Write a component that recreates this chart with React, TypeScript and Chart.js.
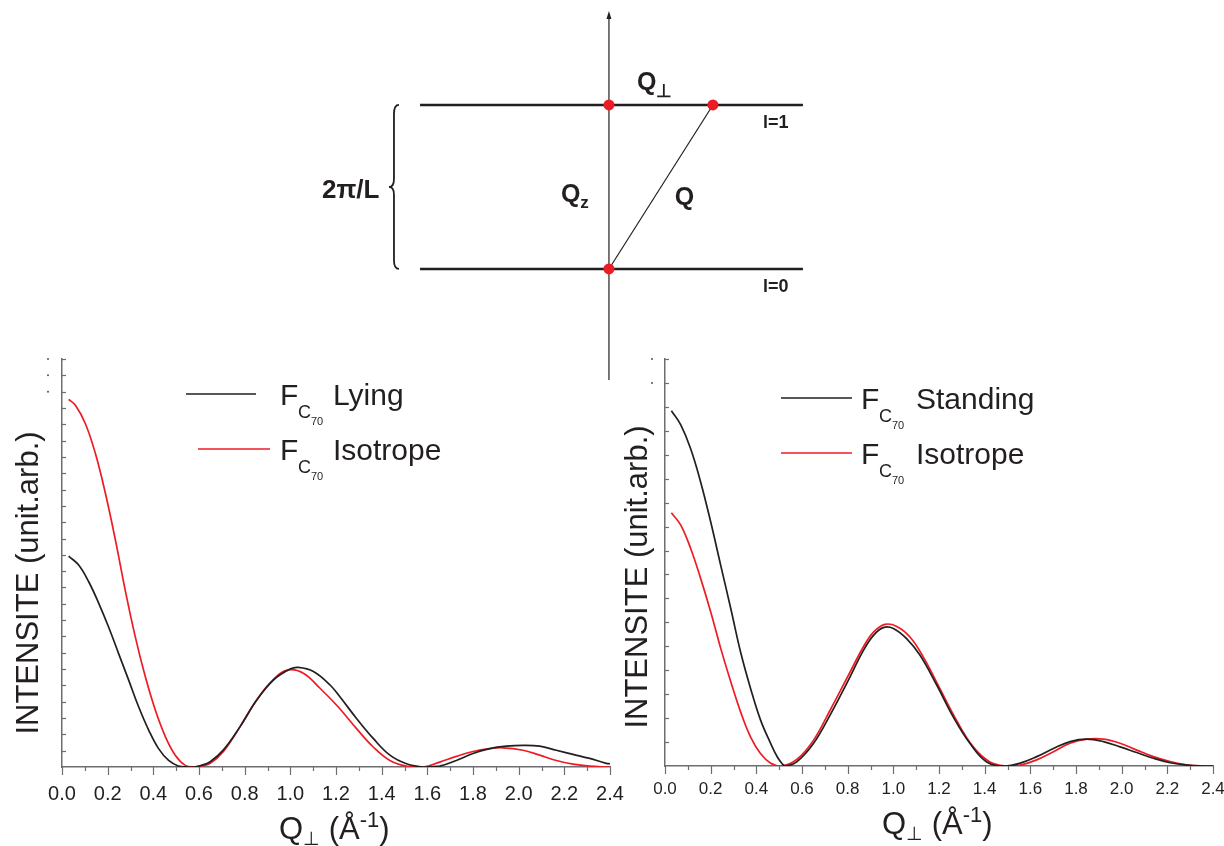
import React, { useEffect, useRef } from 'react';
import { Chart, registerables } from 'chart.js';

Chart.register(...registerables);

const FONT = 'Arial, "Liberation Sans", Helvetica, sans-serif';
const INK = '#231f20';
const RED = '#ed1c24';
const AXIS = '#6d6e71';

// ---------------- data : left panel (C70 lying vs isotrope) ----------------
const lyingQ = [0.029, 0.073, 0.117, 0.161, 0.204, 0.248, 0.292, 0.336, 0.380, 0.423, 0.467, 0.511, 0.545, 0.580, 0.605, 0.649, 0.707, 0.780, 0.853, 0.926, 0.999, 1.035, 1.101, 1.174, 1.217, 1.290, 1.363, 1.436, 1.509, 1.585, 1.654, 1.727, 1.800, 1.873, 1.946, 2.019, 2.092, 2.165, 2.238, 2.311, 2.384, 2.400];
const lyingI = [51.7, 49.5, 45.4, 40.1, 34.3, 27.8, 21.3, 14.7, 9.0, 4.5, 1.6, 0.2, 0.02, 0, 0.3, 1.3, 4.2, 9.9, 16.4, 21.3, 24.0, 24.4, 23.4, 20.1, 17.2, 11.9, 7.0, 2.9, 0.8, 0, 0.2, 1.6, 3.3, 4.5, 5.1, 5.3, 5.1, 4.1, 3.1, 2.1, 0.9, 0.8];

const isoLeftQ = [0.029, 0.058, 0.102, 0.146, 0.190, 0.234, 0.277, 0.321, 0.365, 0.409, 0.453, 0.496, 0.540, 0.577, 0.605, 0.649, 0.707, 0.780, 0.853, 0.926, 0.991, 1.057, 1.130, 1.210, 1.290, 1.363, 1.436, 1.509, 1.582, 1.654, 1.727, 1.800, 1.873, 1.931, 2.019, 2.092, 2.165, 2.238, 2.311, 2.384, 2.400];
const isoLeftI = [90.1, 88.7, 84.2, 76.9, 67.1, 55.6, 43.3, 31.9, 22.1, 13.9, 7.4, 2.9, 0.4, 0, 0.2, 0.9, 3.8, 9.9, 16.5, 21.5, 23.8, 23.0, 19.3, 14.7, 9.4, 4.9, 1.6, 0.2, 0, 1.2, 2.6, 3.8, 4.5, 4.7, 4.1, 2.9, 1.6, 0.7, 0.2, 0, 0];

// ---------------- data : right panel (C70 standing vs isotrope) ----------------
const standingQ = [0.028, 0.069, 0.112, 0.156, 0.200, 0.244, 0.288, 0.331, 0.375, 0.419, 0.463, 0.492, 0.514, 0.528, 0.577, 0.650, 0.723, 0.796, 0.869, 0.913, 0.956, 1.000, 1.058, 1.117, 1.190, 1.263, 1.336, 1.409, 1.490, 1.555, 1.628, 1.701, 1.774, 1.847, 1.920, 1.993, 2.066, 2.139, 2.212, 2.285, 2.358, 2.400];
const standingI = [87.3, 83.8, 78.0, 69.8, 60.0, 49.3, 38.7, 28.0, 19.0, 11.2, 5.5, 2.2, 0.5, 0, 1.0, 5.5, 12.5, 20.3, 28.4, 32.1, 34.0, 33.8, 31.3, 27.2, 19.9, 12.0, 5.5, 1.0, 0, 0.7, 2.3, 4.3, 6.0, 6.6, 6.0, 4.7, 3.3, 1.9, 0.8, 0.2, 0, 0];

const isoRightQ = [0.028, 0.069, 0.112, 0.156, 0.200, 0.244, 0.288, 0.331, 0.375, 0.419, 0.463, 0.510, 0.577, 0.650, 0.723, 0.796, 0.869, 0.913, 0.963, 1.015, 1.073, 1.131, 1.204, 1.277, 1.350, 1.423, 1.496, 1.555, 1.628, 1.701, 1.774, 1.847, 1.920, 1.993, 2.066, 2.139, 2.212, 2.285, 2.358, 2.400];
const isoRightI = [62.2, 59.2, 53.5, 46.1, 37.9, 28.9, 20.7, 13.3, 7.1, 3.0, 0.7, 0, 1.6, 6.3, 13.7, 21.5, 29.3, 32.9, 34.8, 34.3, 31.7, 26.8, 19.0, 11.2, 4.7, 1.0, 0, 0.2, 1.5, 3.5, 5.6, 6.6, 6.6, 5.6, 3.9, 2.3, 1.1, 0.3, 0, 0];

// ---------------- ticks / labels ----------------
const xTickValues = [0, 0.2, 0.4, 0.6, 0.8, 1.0, 1.2, 1.4, 1.6, 1.8, 2.0, 2.2, 2.4];
const xTickLabels = ['0.0', '0.2', '0.4', '0.6', '0.8', '1.0', '1.2', '1.4', '1.6', '1.8', '2.0', '2.2', '2.4'];
const xTickMarks = [0, 0.1, 0.2, 0.3, 0.4, 0.5, 0.6, 0.7, 0.8, 0.9, 1.0, 1.1, 1.2, 1.3, 1.4, 1.5, 1.6, 1.7, 1.8, 1.9, 2.0, 2.1, 2.2, 2.3, 2.4];
const yTitle = 'INTENSITE (unit.arb.)';
const leftNames = ['Lying', 'Isotrope'];
const rightNames = ['Standing', 'Isotrope'];

// ---------------- diagram (reciprocal space sketch) ----------------
const levelValues = [0, 1];
const levelLabels = ['l=0', 'l=1'];
const levelSpan = [-1.152, 1.183];
const qzAxisSpan = [-0.677, 1.555];
const qPerpValue = 0.634;

type Series = { q: number[]; v: number[]; color: string };
type LegendItem = { name: string; color: string; x1: number; x2: number; ly: number; fx: number; base: number; nameX: number };
type PanelSpec = {
  left: number; top: number; width: number; height: number;
  area: { left: number; right: number; top: number; bottom: number };
  series: Series[];
  yTicks: number;
  tickFont: number;
  tickPad: number;
  legend: LegendItem[];
  yTitle: { x: number; y: number; size: number };
  xTitle: { x: number; base: number; size: number };
  dots: { x: number; ticks: number[] };
};

function drawRich(ctx: CanvasRenderingContext2D, parts: { t: string; size: number; dy: number }[], x: number, base: number, weight = '') {
  let cx = x;
  for (const p of parts) {
    ctx.font = `${weight}${p.size}px ${FONT}`;
    ctx.fillText(p.t, cx, base + p.dy);
    cx += ctx.measureText(p.t).width;
  }
}

function panelPlugin(spec: PanelSpec) {
  return {
    id: 'panelDecor',
    afterDraw(chart: any) {
      const { ctx, chartArea } = chart;
      const xs = chart.scales.x;
      const ys = chart.scales.y;
      ctx.save();
      ctx.strokeStyle = AXIS;
      ctx.lineWidth = 1.2;
      // inner minor ticks on the y axis
      for (let i = 1; i <= spec.yTicks; i++) {
        const py = Math.round(ys.getPixelForValue((i * 100) / spec.yTicks)) + 0.5;
        ctx.beginPath();
        ctx.moveTo(chartArea.left, py);
        ctx.lineTo(chartArea.left + 4, py);
        ctx.stroke();
      }
      // outer ticks on the x axis
      xTickMarks.forEach((v, k) => {
        const px = Math.round(xs.getPixelForValue(v)) + 0.5;
        const len = k % 2 === 0 ? 8 : 4;
        ctx.beginPath();
        ctx.moveTo(px, chartArea.bottom);
        ctx.lineTo(px, chartArea.bottom + len);
        ctx.stroke();
      });
      // leftover label dots at top of y axis
      ctx.fillStyle = '#555';
      for (const t of spec.dots.ticks) {
        const py = ys.getPixelForValue((t * 100) / spec.yTicks);
        ctx.beginPath();
        ctx.arc(spec.dots.x, py, 1, 0, Math.PI * 2);
        ctx.fill();
      }
      // y title
      ctx.fillStyle = INK;
      ctx.save();
      ctx.translate(spec.yTitle.x, spec.yTitle.y);
      ctx.rotate(-Math.PI / 2);
      ctx.font = `${spec.yTitle.size}px ${FONT}`;
      ctx.textAlign = 'center';
      ctx.textBaseline = 'middle';
      ctx.fillText(yTitle, 0, 0);
      ctx.restore();
      // x title  Q⊥ (Å-1)
      ctx.textAlign = 'left';
      ctx.textBaseline = 'alphabetic';
      const s = spec.xTitle.size;
      drawRich(ctx, [
        { t: 'Q', size: s, dy: 0 },
        { t: '⊥', size: Math.round(s * 0.62), dy: 6 },
        { t: ' (Å', size: s, dy: 0 },
        { t: '-1', size: Math.round(s * 0.72), dy: -12 },
        { t: ')', size: s, dy: 0 },
      ], spec.xTitle.x, spec.xTitle.base);
      // legend
      for (const it of spec.legend) {
        ctx.strokeStyle = it.color;
        ctx.lineWidth = 1.6;
        ctx.beginPath();
        ctx.moveTo(it.x1, it.ly);
        ctx.lineTo(it.x2, it.ly);
        ctx.stroke();
        ctx.fillStyle = INK;
        ctx.font = `30px ${FONT}`;
        ctx.fillText('F', it.fx, it.base);
        ctx.font = `18px ${FONT}`;
        ctx.fillText('C', it.fx + 18, it.base + 13);
        ctx.font = `11px ${FONT}`;
        ctx.fillText('70', it.fx + 31, it.base + 20);
        ctx.font = `30px ${FONT}`;
        ctx.fillText(it.name, it.nameX, it.base);
      }
      ctx.restore();
    },
  };
}

function Panel({ spec }: { spec: PanelSpec }) {
  const ref = useRef<HTMLCanvasElement>(null);
  useEffect(() => {
    if (!ref.current) return;
    const chart = new Chart(ref.current, {
      type: 'scatter',
      data: {
        datasets: spec.series.map((s) => ({
          data: s.q.map((q, i) => ({ x: q, y: s.v[i] })),
          showLine: true,
          borderColor: s.color,
          borderWidth: 1.7,
          pointRadius: 0,
          tension: 0.4,
          capBezierPoints: true,
          fill: false,
        })),
      } as any,
      options: {
        animation: false,
        responsive: false,
        maintainAspectRatio: false,
        layout: {
          autoPadding: false,
          padding: { left: 0, top: spec.area.top, right: spec.width - spec.area.right, bottom: 0 },
        },
        plugins: { legend: { display: false }, tooltip: { enabled: false } },
        scales: {
          x: {
            type: 'linear',
            min: 0,
            max: 2.4,
            afterFit: (sc: any) => {
              sc.height = spec.height - spec.area.bottom;
              sc.paddingLeft = 0;
              sc.paddingRight = 0;
            },
            afterBuildTicks: (sc: any) => { sc.ticks = xTickValues.map((v) => ({ value: v })); },
            grid: { display: false },
            border: { display: true, color: AXIS, width: 1.5 },
            ticks: {
              autoSkip: false,
              maxRotation: 0,
              padding: spec.tickPad,
              color: INK,
              font: { size: spec.tickFont, family: FONT },
              callback: (_v: any, i: number) => xTickLabels[i],
            },
          },
          y: {
            type: 'linear',
            min: 0,
            max: 100,
            afterFit: (sc: any) => {
              sc.width = spec.area.left;
              sc.paddingTop = 0;
              sc.paddingBottom = 0;
            },
            grid: { display: false },
            border: { display: true, color: AXIS, width: 1.5 },
            ticks: { display: false },
          },
        },
      } as any,
      plugins: [panelPlugin(spec)],
    });
    return () => chart.destroy();
  }, [spec]);
  return (
    <canvas
      ref={ref}
      width={spec.width}
      height={spec.height}
      style={{ position: 'absolute', left: spec.left, top: spec.top, width: spec.width, height: spec.height }}
    />
  );
}

const leftSpec: PanelSpec = {
  left: 0, top: 340, width: 630, height: 506,
  area: { left: 62, right: 610, top: 19, bottom: 427 },
  series: [
    { q: lyingQ, v: lyingI, color: INK },
    { q: isoLeftQ, v: isoLeftI, color: RED },
  ],
  yTicks: 25,
  tickFont: 20,
  tickPad: 7,
  legend: [
    { name: leftNames[0], color: INK, x1: 186, x2: 256, ly: 54, fx: 280, base: 65, nameX: 333 },
    { name: leftNames[1], color: RED, x1: 198, x2: 270, ly: 109, fx: 280, base: 120, nameX: 333 },
  ],
  yTitle: { x: 29, y: 243, size: 31 },
  xTitle: { x: 279, base: 499, size: 31 },
  dots: { x: 48, ticks: [25, 24, 23] },
};

const rightSpec: PanelSpec = {
  left: 610, top: 340, width: 614, height: 506,
  area: { left: 55, right: 603, top: 19, bottom: 426 },
  series: [
    { q: standingQ, v: standingI, color: INK },
    { q: isoRightQ, v: isoRightI, color: RED },
  ],
  yTicks: 17,
  tickFont: 17,
  tickPad: 5,
  legend: [
    { name: rightNames[0], color: INK, x1: 171, x2: 242, ly: 58, fx: 251, base: 69, nameX: 306 },
    { name: rightNames[1], color: RED, x1: 171, x2: 242, ly: 113, fx: 251, base: 124, nameX: 306 },
  ],
  yTitle: { x: 28, y: 237, size: 31 },
  xTitle: { x: 272, base: 494, size: 31 },
  dots: { x: 42, ticks: [17, 16] },
};

const diagramLabels = [
  { text: 'Q', sub: '⊥', x: 0.171, y: 1.091, size: 25, subSize: 18, subDy: 7 },
  { text: 'Q', sub: 'z', x: -0.293, y: 0.409, size: 25, subSize: 17, subDy: 6 },
  { text: 'Q', sub: '', x: 0.402, y: 0.39, size: 25, subSize: 0, subDy: 0 },
  { text: '2π/L', sub: '', x: -1.75, y: 0.433, size: 26, subSize: 0, subDy: 0 },
];

const diagramPlugin = {
  id: 'diagramDecor',
  afterDraw(chart: any) {
    const { ctx } = chart;
    const sx = (v: number) => chart.scales.x.getPixelForValue(v);
    const sy = (v: number) => chart.scales.y.getPixelForValue(v);
    ctx.save();
    ctx.fillStyle = INK;
    ctx.textBaseline = 'alphabetic';
    ctx.textAlign = 'left';
    // arrow head on Qz axis
    const ax = sx(0);
    const ay = sy(qzAxisSpan[1]);
    ctx.beginPath();
    ctx.moveTo(ax, ay - 3);
    ctx.lineTo(ax - 2.5, ay + 5);
    ctx.lineTo(ax + 2.5, ay + 5);
    ctx.closePath();
    ctx.fill();
    // labels
    for (const l of diagramLabels) {
      const parts = [{ t: l.text, size: l.size, dy: 0 }];
      if (l.sub) parts.push({ t: l.sub, size: l.subSize, dy: l.subDy });
      drawRich(ctx, parts, sx(l.x), sy(l.y), 'bold ');
    }
    levelValues.forEach((lv, i) => {
      ctx.font = `bold 18px ${FONT}`;
      ctx.fillText(levelLabels[i], sx(0.939), sy(lv - 0.14));
    });
    // curly brace spanning l=0 .. l=1
    const bx = sx(-1.311);
    const top = sy(levelValues[1]);
    const bot = sy(levelValues[0]);
    const mid = (top + bot) / 2;
    ctx.strokeStyle = INK;
    ctx.lineWidth = 1.8;
    ctx.beginPath();
    ctx.moveTo(bx + 5, top);
    ctx.quadraticCurveTo(bx, top, bx, top + 9);
    ctx.lineTo(bx, mid - 8);
    ctx.quadraticCurveTo(bx, mid, bx - 5, mid);
    ctx.quadraticCurveTo(bx, mid, bx, mid + 8);
    ctx.lineTo(bx, bot - 9);
    ctx.quadraticCurveTo(bx, bot, bx + 5, bot);
    ctx.stroke();
    ctx.restore();
  },
};

function Diagram() {
  const ref = useRef<HTMLCanvasElement>(null);
  useEffect(() => {
    if (!ref.current) return;
    const lineDs = (pts: { x: number; y: number }[], w: number) => ({
      data: pts,
      showLine: true,
      borderColor: INK,
      borderWidth: w,
      pointRadius: 0,
      tension: 0,
      order: 1,
    });
    const chart = new Chart(ref.current, {
      type: 'scatter',
      data: {
        datasets: [
          ...levelValues.map((lv) => lineDs([{ x: levelSpan[0], y: lv }, { x: levelSpan[1], y: lv }], 2.6)),
          lineDs([{ x: 0, y: qzAxisSpan[0] }, { x: 0, y: qzAxisSpan[1] }], 1.2),
          lineDs([{ x: 0, y: levelValues[0] }, { x: qPerpValue, y: levelValues[1] }], 1.2),
          {
            data: [{ x: 0, y: levelValues[1] }, { x: qPerpValue, y: levelValues[1] }, { x: 0, y: levelValues[0] }],
            showLine: false,
            pointRadius: 5.5,
            pointBackgroundColor: '#ec1c24',
            pointBorderWidth: 0,
            order: 0,
          },
        ],
      } as any,
      options: {
        animation: false,
        responsive: false,
        maintainAspectRatio: false,
        layout: { autoPadding: false, padding: 0 },
        plugins: { legend: { display: false }, tooltip: { enabled: false } },
        scales: {
          x: { type: 'linear', display: false, min: -1.884, max: 1.287 },
          y: { type: 'linear', display: false, min: -0.738, max: 1.64 },
        },
      } as any,
      plugins: [diagramPlugin],
    });
    return () => chart.destroy();
  }, []);
  return (
    <canvas
      ref={ref}
      width={520}
      height={390}
      style={{ position: 'absolute', left: 300, top: 0, width: 520, height: 390, zIndex: 2, pointerEvents: 'none' }}
    />
  );
}

export default function App() {
  return (
    <div style={{ position: 'absolute', left: 0, top: 0, width: 1224, height: 846, background: '#fff', overflow: 'hidden' }}>
      <Panel spec={leftSpec} />
      <Panel spec={rightSpec} />
      <Diagram />
    </div>
  );
}
